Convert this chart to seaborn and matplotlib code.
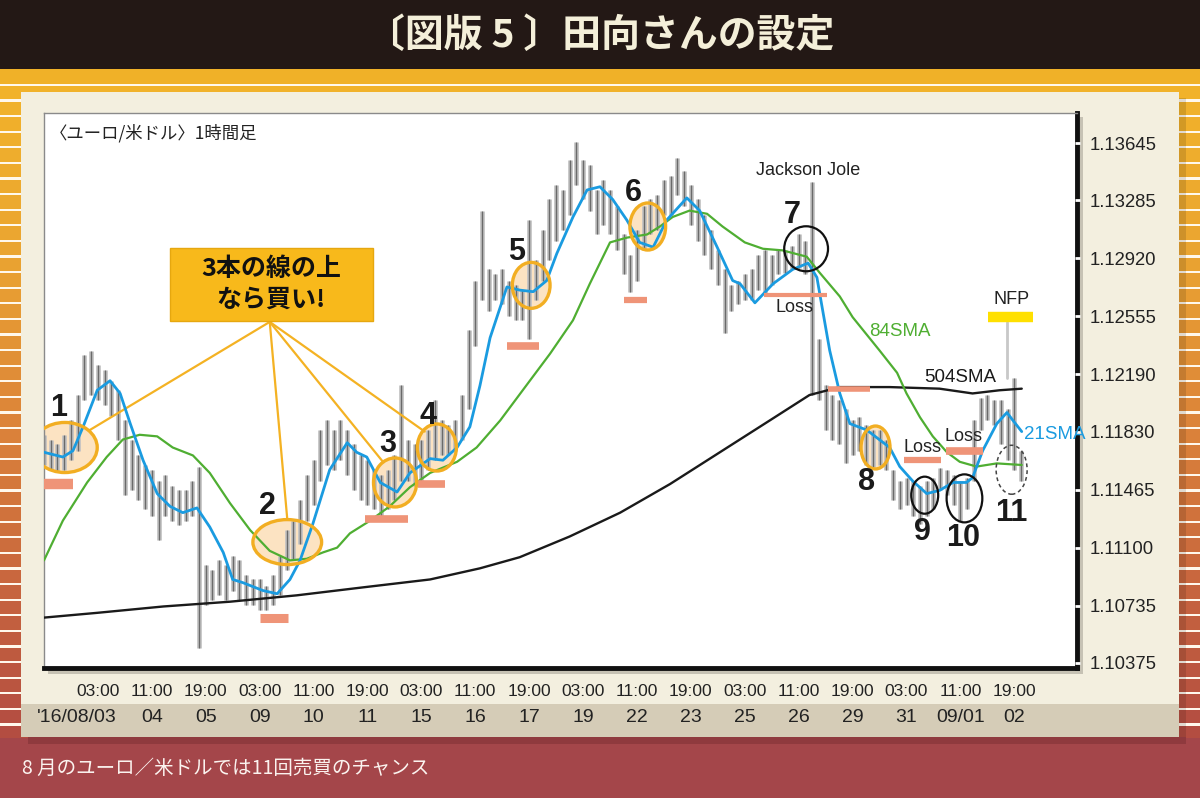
import numpy as np
import matplotlib
matplotlib.use('Agg')
import matplotlib.pyplot as plt
import seaborn as sns
from matplotlib.patches import Ellipse, Rectangle
from matplotlib.colors import LinearSegmentedColormap

# ---------------- data ----------------
bar_high = [1.1181, 1.1178, 1.1175, 1.1181, 1.1190, 1.1206, 1.1231, 1.1234, 1.1225, 1.1222,
            1.1215, 1.1209, 1.1190, 1.1178, 1.1168, 1.1162, 1.1159, 1.1152, 1.1156, 1.1149,
            1.1146, 1.1146, 1.1152, 1.1161, 1.1099, 1.1096, 1.1102, 1.1099, 1.1105, 1.1102,
            1.1093, 1.1090, 1.1090, 1.1086, 1.1093, 1.1105, 1.1121, 1.1127, 1.1140, 1.1156,
            1.1165, 1.1184, 1.1190, 1.1184, 1.1190, 1.1184, 1.1175, 1.1168, 1.1165, 1.1159,
            1.1156, 1.1159, 1.1168, 1.1212, 1.1178, 1.1175, 1.1178, 1.1184, 1.1203, 1.1190,
            1.1187, 1.1190, 1.1206, 1.1247, 1.1278, 1.1322, 1.1285, 1.1282, 1.1285, 1.1278,
            1.1275, 1.1272, 1.1316, 1.1291, 1.1310, 1.1329, 1.1338, 1.1335, 1.1354, 1.1365,
            1.1354, 1.1351, 1.1335, 1.1341, 1.1335, 1.1325, 1.1307, 1.1294, 1.1310, 1.1325,
            1.1329, 1.1332, 1.1341, 1.1344, 1.1355, 1.1347, 1.1338, 1.1329, 1.1319, 1.1310,
            1.1297, 1.1285, 1.1275, 1.1278, 1.1282, 1.1285, 1.1294, 1.1297, 1.1294, 1.1297,
            1.1297, 1.1300, 1.1307, 1.1303, 1.1340, 1.1241, 1.1212, 1.1206, 1.1203, 1.1197,
            1.1190, 1.1192, 1.1187, 1.1184, 1.1184, 1.1178, 1.1159, 1.1152, 1.1154, 1.1152,
            1.1149, 1.1152, 1.1154, 1.1160, 1.1159, 1.1156, 1.1152, 1.1154, 1.1190, 1.1204,
            1.1206, 1.1203, 1.1203, 1.1197, 1.1217, 1.1171]
bar_low = [1.1162, 1.1159, 1.1158, 1.1159, 1.1165, 1.1171, 1.1203, 1.1206, 1.1203, 1.1200,
           1.1193, 1.1178, 1.1143, 1.1146, 1.1140, 1.1134, 1.1130, 1.1115, 1.1130, 1.1127,
           1.1124, 1.1127, 1.1130, 1.1047, 1.1074, 1.1077, 1.1080, 1.1077, 1.1083, 1.1077,
           1.1074, 1.1074, 1.1071, 1.1071, 1.1074, 1.1080, 1.1096, 1.1102, 1.1112, 1.1127,
           1.1137, 1.1152, 1.1162, 1.1159, 1.1165, 1.1156, 1.1146, 1.1140, 1.1137, 1.1134,
           1.1130, 1.1134, 1.1140, 1.1152, 1.1152, 1.1149, 1.1152, 1.1159, 1.1165, 1.1168,
           1.1168, 1.1171, 1.1178, 1.1197, 1.1237, 1.1266, 1.1259, 1.1266, 1.1263, 1.1256,
           1.1253, 1.1253, 1.1241, 1.1266, 1.1278, 1.1291, 1.1303, 1.1310, 1.1319, 1.1338,
           1.1329, 1.1322, 1.1307, 1.1313, 1.1307, 1.1297, 1.1282, 1.1271, 1.1278, 1.1297,
           1.1307, 1.1310, 1.1319, 1.1319, 1.1332, 1.1325, 1.1313, 1.1303, 1.1294, 1.1285,
           1.1275, 1.1245, 1.1259, 1.1263, 1.1266, 1.1266, 1.1272, 1.1270, 1.1275, 1.1282,
           1.1283, 1.1285, 1.1286, 1.1282, 1.1206, 1.1203, 1.1184, 1.1178, 1.1175, 1.1163,
           1.1168, 1.1171, 1.1162, 1.1161, 1.1162, 1.1159, 1.1140, 1.1134, 1.1137, 1.1130,
           1.1125, 1.1130, 1.1134, 1.1146, 1.1143, 1.1137, 1.1127, 1.1134, 1.1152, 1.1184,
           1.1190, 1.1187, 1.1175, 1.1165, 1.1159, 1.1152]

sma21_x = [0, 2.8, 4.3, 5.8, 7.9, 9.8, 11.3, 12.8, 14.7, 16.8, 18.7, 20.6, 22.7, 24.6, 26.6,
           28.0, 29.5, 32.5, 34.6, 36.5, 38.0, 39.9, 42.4, 45.0, 46.4, 47.9, 49.9, 52.4, 54.3, 57.3,
           59.2, 61.3, 63.2, 64.7, 66.2, 68.7, 70.6, 72.6, 74.6, 76.1, 78.5, 80.6, 82.5, 84.4, 86.5,
           88.4, 90.4, 92.4, 95.4, 97.3, 99.9, 102.2, 103.3, 105.5, 108.2, 111.1, 113.4, 114.7, 116.6,
           118.1, 119.6, 122.1, 125.5, 127.0, 128.9, 131.0, 132.9, 134.9, 136.9, 137.8, 139.3, 141.4,
           142.9, 143.8, 145.1]
sma21_y = [1.1170, 1.1167, 1.1171, 1.1186, 1.1209, 1.1215, 1.1207, 1.1188, 1.1165, 1.1144,
           1.1136, 1.1132, 1.1135, 1.1123, 1.1107, 1.1090, 1.1088, 1.1083, 1.1081, 1.1090,
           1.1102, 1.1125, 1.1159, 1.1176, 1.1170, 1.1167, 1.1151, 1.1145, 1.1157, 1.1166,
           1.1165, 1.1173, 1.1186, 1.1212, 1.1242, 1.1274, 1.1272, 1.1271, 1.1278, 1.1295,
           1.1318, 1.1335, 1.1337, 1.1329, 1.1316, 1.1302, 1.1299, 1.1316, 1.1330, 1.1322,
           1.1299, 1.1278, 1.1276, 1.1264, 1.1276, 1.1285, 1.1289, 1.1280, 1.1234, 1.1207,
           1.1188, 1.1184, 1.1173, 1.1161, 1.1152, 1.1144, 1.1146, 1.1151, 1.1151, 1.1154,
           1.1171, 1.1188, 1.1195, 1.1190, 1.1183]

sma84_x = [0, 2.8, 6.4, 9.3, 11.7, 14.2, 16.8, 19.1, 22.1, 24.6, 27.6, 30.6, 33.5, 36.5, 39.0,
           41.4, 43.5, 45.4, 48.4, 51.3, 54.3, 57.3, 61.3, 64.2, 67.7, 72.1, 75.1, 78.5, 81.0, 84.0,
           86.5, 89.5, 91.4, 93.3, 95.8, 98.4, 100.7, 104.0, 106.7, 109.6, 113.2, 115.1, 118.1,
           120.0, 124.0, 126.6, 128.0, 130.0, 131.9, 134.0, 135.9, 138.4, 141.4, 145.1]
sma84_y = [1.1102, 1.1127, 1.1151, 1.1167, 1.1178, 1.1181, 1.1180, 1.1173, 1.1168, 1.1157,
           1.1138, 1.1121, 1.1108, 1.1102, 1.1103, 1.1107, 1.1110, 1.1119, 1.1127, 1.1136,
           1.1148, 1.1157, 1.1164, 1.1173, 1.1190, 1.1215, 1.1232, 1.1253, 1.1276, 1.1302,
           1.1305, 1.1307, 1.1312, 1.1318, 1.1322, 1.1320, 1.1312, 1.1302, 1.1298, 1.1297,
           1.1293, 1.1283, 1.1268, 1.1255, 1.1234, 1.1220, 1.1207, 1.1192, 1.1180, 1.1170,
           1.1164, 1.1161, 1.1163, 1.1162]

sma504_x = [0, 7.9, 17.7, 27.6, 37.5, 47.3, 57.3, 64.7, 70.6, 78.0, 85.5, 92.9, 100.3, 107.7,
            113.6, 118.1, 125.5, 132.9, 137.8, 141.8, 145.1]
sma504_y = [1.1066, 1.1069, 1.1073, 1.1076, 1.1080, 1.1085, 1.1090, 1.1097, 1.1104, 1.1117,
            1.1132, 1.1150, 1.1170, 1.1190, 1.1206, 1.1211, 1.1211, 1.1210, 1.1207, 1.1209, 1.1210]

y_ticks = [1.13645, 1.13285, 1.12920, 1.12555, 1.12190, 1.11830, 1.11465, 1.11100, 1.10735, 1.10375]
x_ticks = [8, 16, 24, 32, 40, 48, 56, 64, 72, 80, 88, 96, 104, 112, 120, 128, 136, 144]
time_labels = ['03:00', '11:00', '19:00'] * 6
date_labels = ["'16/08/03", '04', '05', '09', '10', '11', '15', '16', '17', '19',
               '22', '23', '25', '26', '29', '31', '09/01', '02']

# signal annotations
sig_labels = ['1', '2', '3', '4', '5', '6', '7', '8', '9', '10', '11']
sig_lx = [2.1, 33.2, 51.0, 57.0, 70.2, 87.4, 111.1, 122.1, 130.3, 136.4, 143.6]
sig_ly = [1.1198, 1.1136, 1.1175, 1.1193, 1.1296, 1.1333, 1.1319, 1.1151, 1.1120, 1.1116, 1.1132]

buy_cx = [3.1, 36.1, 52.1, 58.3, 72.3, 89.6, 123.4]
buy_cy = [1.1173, 1.11135, 1.1151, 1.1173, 1.1275, 1.1312, 1.1173]
buy_w = [9.6, 10.2, 6.4, 5.8, 5.6, 5.3, 4.3]
buy_h = [0.00315, 0.00283, 0.00308, 0.00296, 0.00289, 0.00296, 0.0027]

sell_cx = [113.1, 130.7, 136.6]
sell_cy = [1.1298, 1.1143, 1.1141]
sell_w = [6.5, 4.0, 5.3]
sell_h = [0.00283, 0.00233, 0.00302]

stop_x0 = [-0.1, 32.0, 47.6, 55.5, 68.7, 86.1, 106.8, 116.3, 127.6, 133.8]
stop_x1 = [4.3, 36.2, 54.0, 59.5, 73.4, 89.5, 116.2, 122.6, 133.1, 139.3]
stop_y = [1.1150, 1.1066, 1.1128, 1.1150, 1.1237, 1.1266, 1.1269, 1.1210, 1.1165, 1.1171]
stop_lw = [7.5, 6.5, 5.5, 5.5, 5.5, 4.5, 3.0, 4.0, 4.5, 5.5]

loss_x = [111.4, 130.3, 136.4]
loss_y = [1.1261, 1.1173, 1.1180]

callout_targets_x = [6.8, 36.1, 50.3, 56.5]
callout_targets_y = [1.1184, 1.1128, 1.1164, 1.1183]

# ---------------- style ----------------
sns.set_theme(style='white')
plt.rcParams['font.family'] = ['Liberation Sans', 'Noto Sans CJK JP', 'DejaVu Sans']
NARROW = ['Liberation Sans Narrow', 'Liberation Sans', 'DejaVu Sans']
CJK = ['Noto Sans CJK JP', 'DejaVu Sans']

fig = plt.figure(figsize=(12, 7.98), dpi=100, facecolor='#fff8ec')

# background poster
bg = fig.add_axes([0, 0, 1, 1], zorder=-10)
bg.set_xlim(0, 1200)
bg.set_ylim(798, 0)
bg.axis('off')
cmap = LinearSegmentedColormap.from_list('st', ['#f1b22a', '#eaa431', '#dc8439', '#c8663e', '#b24b41'])
period = 15.6
for yy in np.arange(86, 740, period):
    bg.add_patch(Rectangle((0, yy), 1200, period - 2.2, color=cmap((yy - 86) / 652), lw=0))
bg.add_patch(Rectangle((0, 0), 1200, 69, color='#231815', lw=0))
bg.add_patch(Rectangle((0, 69), 1200, 15, color='#f0b128', lw=0))
bg.add_patch(Rectangle((1179, 98), 7, 640, color='#000000', alpha=0.12, lw=0))
bg.add_patch(Rectangle((0, 738), 1200, 60, color='#a4464a', lw=0))
bg.add_patch(Rectangle((28, 737), 1158, 7, color='#8f3a3e', lw=0))
bg.add_patch(Rectangle((21, 92), 1158, 645, color='#f3efdf', lw=0))
bg.add_patch(Rectangle((21, 704), 1158, 33, color='#d5ccb7', lw=0))
bg.add_patch(Rectangle((48, 117), 1035, 557, color='#c6c2b4', lw=0))

fig.text(0.5, 1 - 35 / 798, '〔図版 5 〕田向さんの設定', color='#f4efd9', fontsize=28,
         family=CJK, weight='bold', ha='center', va='center')
fig.text(22 / 1200, 1 - 768 / 798, '8 月のユーロ／米ドルでは11回売買のチャンス', color='#fbf3ef',
         fontsize=14, family=CJK, ha='left', va='center')

# main chart
ax = fig.add_axes([44 / 1200, 1 - 668 / 798, 1033 / 1200, 555 / 798])
ax.set_facecolor('white')
ax.set_xlim(0, 153.3)
ax.set_ylim(1.10343, 1.13834)

bar_x = np.arange(len(bar_high))
ax.vlines(bar_x, bar_low, bar_high, colors='#c2c2c2', lw=3.4, zorder=2)
ax.vlines(bar_x, bar_low, bar_high, colors='#6a6a6a', lw=1.0, zorder=2.1)

# buy ellipse fills (under bars)
for cx, cy, w, h in zip(buy_cx, buy_cy, buy_w, buy_h):
    ax.add_patch(Ellipse((cx, cy), w, h, facecolor='#fce3c2', edgecolor='none', zorder=1))

# callout lines
box_x0, box_x1, box_y0, box_y1 = 18.7, 48.8, 1.12525, 1.12985
hub_x, hub_y = 33.5, 1.1252
for tx, ty in zip(callout_targets_x, callout_targets_y):
    ax.plot([hub_x, tx], [hub_y, ty], color='#f4b223', lw=1.6, zorder=3)

sns.lineplot(x=sma504_x, y=sma504_y, ax=ax, color='#1a1a1a', linewidth=1.7, sort=False, zorder=4)
sns.lineplot(x=sma84_x, y=sma84_y, ax=ax, color='#4fae32', linewidth=1.6, sort=False, zorder=4)
sns.lineplot(x=sma21_x, y=sma21_y, ax=ax, color='#1a9be0', linewidth=2.0, sort=False, zorder=5)

for cx, cy, w, h in zip(buy_cx, buy_cy, buy_w, buy_h):
    ax.add_patch(Ellipse((cx, cy), w, h, facecolor='none', edgecolor='#f2ae22', lw=2.4, zorder=6))
for cx, cy, w, h in zip(sell_cx, sell_cy, sell_w, sell_h):
    ax.add_patch(Ellipse((cx, cy), w, h, facecolor='none', edgecolor='#111111', lw=1.6, zorder=6))
ax.add_patch(Ellipse((143.6, 1.1159), 4.6, 0.00308, facecolor='none', edgecolor='#444444',
                     lw=1.1, linestyle=(0, (2.5, 2)), zorder=6))

for x0, x1, yv, lw in zip(stop_x0, stop_x1, stop_y, stop_lw):
    ax.plot([x0, x1], [yv, yv], color='#ef9478', lw=lw, solid_capstyle='butt', zorder=5)

for lab, lx, ly in zip(sig_labels, sig_lx, sig_ly):
    ax.text(lx, ly, lab, fontsize=22, weight='bold', color='#1a1a1a', ha='center', va='center', zorder=8)
for lx, ly in zip(loss_x, loss_y):
    ax.text(lx, ly, 'Loss', fontsize=13, family=NARROW, color='#222222', ha='center', va='center', zorder=8)

# event markers
ax.plot([142.9, 142.9], [1.1252, 1.1217], color='#c8c8c8', lw=2, zorder=1.5)
ax.plot([140.1, 146.7], [1.1255, 1.1255], color='#ffe000', lw=7.5, solid_capstyle='butt', zorder=6)
ax.text(143.6, 1.1266, 'NFP', fontsize=13, family=NARROW, color='#222222', ha='center', va='center')
ax.text(113.4, 1.1347, 'Jackson Jole', fontsize=13, family=NARROW, color='#222222', ha='center', va='center')
ax.text(127.0, 1.1246, '84SMA', fontsize=13.5, family=NARROW, color='#4fae32', ha='center', va='center')
ax.text(135.9, 1.1217, '504SMA', fontsize=13.5, family=NARROW, color='#1a1a1a', ha='center', va='center')
ax.text(145.5, 1.1181, '21SMA', fontsize=13.5, family=NARROW, color='#1a9be0', ha='left', va='center')

# callout box
ax.add_patch(Rectangle((box_x0, box_y0), box_x1 - box_x0, box_y1 - box_y0, facecolor='#f8b91b',
                       edgecolor='#e6a70f', lw=1, zorder=9))
ax.text((box_x0 + box_x1) / 2, 1.1285, '3本の線の上', fontsize=18, weight='bold', family=CJK,
        color='#111111', ha='center', va='center', zorder=10)
ax.text((box_x0 + box_x1) / 2, 1.1266, 'なら買い!', fontsize=18, weight='bold', family=CJK,
        color='#111111', ha='center', va='center', zorder=10)

ax.text(0.006, 0.964, '〈ユーロ/米ドル〉1時間足', transform=ax.transAxes, fontsize=12.5, family=CJK,
        color='#222222', ha='left', va='center')

# axes frame and ticks
for side in ['left', 'top']:
    ax.spines[side].set_color('#8a8a8a')
    ax.spines[side].set_linewidth(1.0)
for side in ['right', 'bottom']:
    ax.spines[side].set_color('#111111')
    ax.spines[side].set_linewidth(3.5)
ax.set_axisbelow(False)
ax.yaxis.tick_right()
ax.set_yticks(y_ticks)
ax.set_yticklabels([f'{v:.5f}' for v in y_ticks])
ax.set_xticks(x_ticks)
ax.set_xticklabels(time_labels)
ax.tick_params(axis='y', direction='inout', length=3.6, width=2, color='white', pad=7.5,
               labelsize=13.3, labelcolor='#222222', right=True, left=False)
ax.tick_params(axis='x', direction='inout', length=3.6, width=2, color='white', pad=9.5,
               labelsize=12.5, labelcolor='#222222')
for lab in ax.get_xticklabels():
    lab.set_family(NARROW)
ax.set_xlabel('')
ax.set_ylabel('')

for i, (tx, dl) in enumerate(zip(x_ticks, date_labels)):
    ax.annotate(dl, xy=(tx, 0), xycoords=('data', 'axes fraction'),
                xytext=(-15 if i == 0 else 0, -36), textcoords='offset points',
                fontsize=14, family=NARROW, color='#222222', ha='center', va='center',
                annotation_clip=False)

fig.savefig('out.png', dpi=100, facecolor=fig.get_facecolor())
